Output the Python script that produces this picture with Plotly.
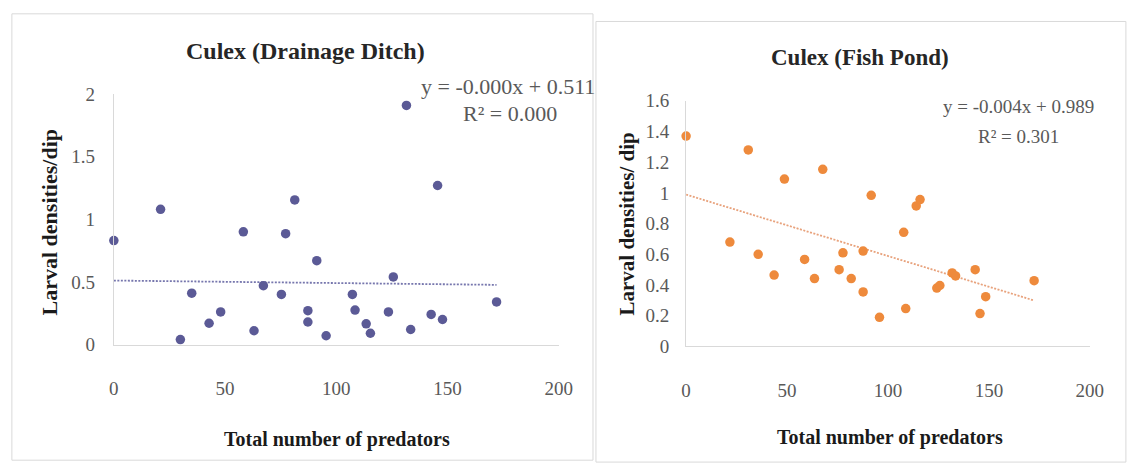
import plotly.graph_objects as go

# ---------------- data ----------------
ditch_predators = [0, 21, 29.9, 35, 42.8, 48, 58.2, 63, 67.2, 75.3, 77.2, 81.3, 87.2, 87.2,
                   91.2, 95.4, 107.2, 108.4, 113.4, 115.3, 123.4, 125.6, 131.5, 133.4,
                   142.6, 145.5, 147.7, 172]
ditch_larvae = [0.83, 1.08, 0.04, 0.41, 0.17, 0.26, 0.90, 0.11, 0.47, 0.40, 0.885, 1.155,
                0.27, 0.18, 0.67, 0.07, 0.40, 0.275, 0.165, 0.09, 0.26, 0.54, 1.91, 0.12,
                0.24, 1.27, 0.20, 0.34]

pond_predators = [0, 21.7, 30.8, 35.7, 43.6, 48.7, 58.7, 63.6, 67.7, 75.8, 77.7, 81.8, 87.7,
                  87.7, 91.7, 95.8, 107.8, 108.8, 114, 115.9, 124.2, 125.7, 131.8, 133.5,
                  143.2, 145.6, 148.4, 172.4]
pond_larvae = [1.37, 0.68, 1.28, 0.60, 0.465, 1.09, 0.567, 0.442, 1.154, 0.50, 0.61, 0.442,
               0.621, 0.355, 0.984, 0.19, 0.743, 0.247, 0.915, 0.957, 0.38, 0.397, 0.479,
               0.459, 0.50, 0.214, 0.324, 0.428]

# trendline coefficients (from the chart's equations)
ditch_slope, ditch_intercept = -0.0002, 0.511
pond_slope, pond_intercept = -0.004, 0.989

ditch_title = "Culex (Drainage Ditch)"
pond_title = "Culex (Fish Pond)"
ditch_eq = "y = -0.000x + 0.511"
ditch_r2 = "R² = 0.000"
pond_eq = "y = -0.004x + 0.989"
pond_r2 = "R² = 0.301"
x_title = "Total number of predators"
ditch_ytitle = "Larval densities/dip"
pond_ytitle = "Larval densities/ dip"

x_ticks = [0, 50, 100, 150, 200]
ditch_yticks = [0, 0.5, 1, 1.5, 2]
pond_yticks = [0, 0.2, 0.4, 0.6, 0.8, 1, 1.2, 1.4, 1.6]

# ---------------- figure ----------------
W, H = 1135, 475
FONT = "Liberation Serif"
PURPLE = "#5b5a96"
ORANGE = "#ee8a3c"


def px(x):
    return x / W


def py(y):
    return 1 - y / H


fig = go.Figure()

# trendlines
dx = [min(ditch_predators), max(ditch_predators)]
fig.add_trace(go.Scatter(x=dx, y=[ditch_intercept + ditch_slope * v for v in dx],
                         mode="lines", line=dict(color="#7676ad", width=1.8, dash="2px,1.5px"),
                         xaxis="x", yaxis="y", hoverinfo="skip", showlegend=False))
pxs = [min(pond_predators), max(pond_predators)]
fig.add_trace(go.Scatter(x=pxs, y=[pond_intercept + pond_slope * v for v in pxs],
                         mode="lines", line=dict(color="#e8a27c", width=1.8, dash="2px,1.5px"),
                         xaxis="x2", yaxis="y2", hoverinfo="skip", showlegend=False))

# scatter points
fig.add_trace(go.Scatter(x=ditch_predators, y=ditch_larvae, mode="markers",
                         marker=dict(color=PURPLE, size=9.5), cliponaxis=False,
                         xaxis="x", yaxis="y", showlegend=False))
fig.add_trace(go.Scatter(x=pond_predators, y=pond_larvae, mode="markers",
                         marker=dict(color=ORANGE, size=9.5), cliponaxis=False,
                         xaxis="x2", yaxis="y2", showlegend=False))

tickfont = dict(family=FONT, size=19, color="#595959")
axis_common = dict(showgrid=False, zeroline=False, showline=True, linecolor="#d9d9d9",
                   linewidth=1, ticks="outside", tickcolor="rgba(0,0,0,0)",
                   tickfont=tickfont, fixedrange=True)

fig.update_layout(
    width=W, height=H,
    margin=dict(l=0, r=0, t=0, b=0),
    paper_bgcolor="white", plot_bgcolor="white",
    showlegend=False,
    xaxis=dict(domain=[px(110.7), px(563.3)], range=[0, 200], tickvals=x_ticks,
               anchor="y", ticklen=27, **axis_common),
    yaxis=dict(domain=[py(350), py(88)], range=[0, 2], tickvals=ditch_yticks,
               anchor="x", ticklen=14, **axis_common),
    xaxis2=dict(domain=[px(692.7), px(1103.3)], range=[0, 200], tickvals=x_ticks,
                anchor="y2", ticklen=27, **axis_common),
    yaxis2=dict(domain=[py(352), py(95)], range=[0, 1.6], tickvals=pond_yticks,
                anchor="x2", ticklen=12, **axis_common),
)

# panel borders
fig.add_shape(type="rect", xref="paper", yref="paper",
              x0=px(7), x1=px(598), y0=py(471), y1=py(4),
              line=dict(color="#d9d9d9", width=1))
fig.add_shape(type="rect", xref="paper", yref="paper",
              x0=px(601), x1=px(1140), y0=py(473), y1=py(12),
              line=dict(color="#d9d9d9", width=1))


def ann(text, x, y, size, color, bold=False, angle=0):
    fig.add_annotation(text=f"<b>{text}</b>" if bold else text,
                       xref="paper", yref="paper", x=px(x), y=py(y),
                       xanchor="center", yanchor="middle", showarrow=False,
                       textangle=angle, font=dict(family=FONT, size=size, color=color))


ann(ditch_title, 306, 43, 24, "#262626", bold=True)
ann(pond_title, 870, 50, 23, "#262626", bold=True)
ann(ditch_eq, 512, 80, 22, "#595959")
ann(ditch_r2, 514, 108, 22, "#595959")
ann(pond_eq, 1031, 101, 19, "#595959")
ann(pond_r2, 1031, 132, 19, "#595959")
ann(x_title, 338, 449, 20, "#1a1a1a", bold=True)
ann(x_title, 900, 447, 20, "#1a1a1a", bold=True)
ann(ditch_ytitle, 45, 222, 22, "#1a1a1a", bold=True, angle=-90)
ann(pond_ytitle, 633, 224, 21, "#1a1a1a", bold=True, angle=-90)

fig.write_html("out.html")
